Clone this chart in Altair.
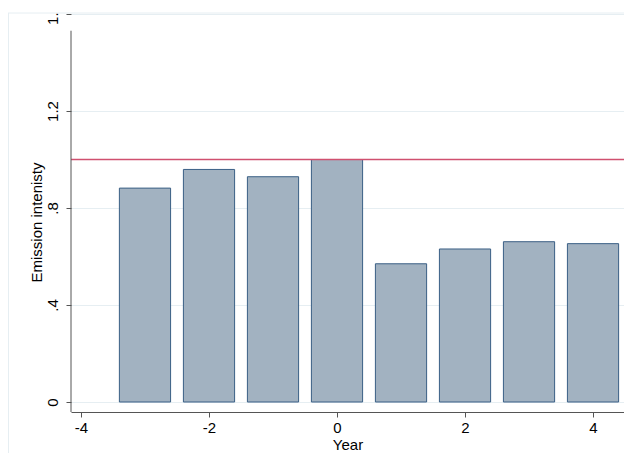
import altair as alt
import pandas as pd

years = [-3, -2, -1, 0, 1, 2, 3, 4]
values = [0.882, 0.959, 0.929, 1.0, 0.570, 0.631, 0.661, 0.653]
x_ticks = [-4, -2, 0, 2, 4]
y_ticks = [0, 0.4, 0.8, 1.2, 1.6]
ref_value = [1.0]

W, H = 553, 398
FONT = "Liberation Sans"

df = pd.DataFrame({"year": years, "value": values})
ref = pd.DataFrame({"ref": ref_value})

xscale = alt.Scale(domain=[-4.156, 4.484], nice=False, zero=False)
yscale = alt.Scale(domain=[-0.0412, 1.6], nice=False, zero=False)

bars = alt.Chart(df).transform_calculate(
    lo="datum.year - 0.4", hi="datum.year + 0.4"
).mark_bar(fill="#a2b2c1", stroke="#3a5f85", strokeWidth=1).encode(
    x=alt.X("lo:Q", scale=xscale,
            axis=alt.Axis(values=x_ticks, title="Year", grid=False,
                          domainColor="#555555", tickColor="#555555", tickSize=5,
                          labelExpr="'' + datum.value",
                          labelFont=FONT, labelFontSize=15, labelColor="#000000",
                          labelPadding=3, titleFont=FONT, titleFontSize=15,
                          titleFontWeight="normal", titleColor="#000000",
                          titlePadding=2, labelFlush=False)),
    x2="hi:Q",
    y=alt.Y("value:Q", scale=yscale,
            axis=alt.Axis(values=y_ticks, title="Emission intenisty", grid=True,
                          gridColor="#e6eef2", domain=False,
                          tickColor="#555555", tickSize=5,
                          labelExpr="datum.value == 0 ? '0' : (datum.value < 1 ? replace(format(datum.value, '.1f'), '0.', '.') : format(datum.value, '.1f'))",
                          labelFont=FONT, labelFontSize=15, labelColor="#000000",
                          labelAngle=270, labelAlign="center", labelBaseline="bottom",
                          labelPadding=6, labelFlush=False,
                          titleFont=FONT, titleFontSize=15, titleFontWeight="normal",
                          titleColor="#000000", titleAngle=270,
                          titleX=-35, titleY=208, titleBaseline="middle")),
    y2=alt.datum(0),
)

refline = alt.Chart(ref).mark_rule(color="#d0506f", strokeWidth=1.6).encode(
    y=alt.Y("ref:Q", scale=yscale)
)

yaxis_line = alt.Chart(ref).mark_rule(color="#555555", strokeWidth=1).encode(
    x=alt.value(0),
    y=alt.datum(-0.0412, scale=yscale),
    y2=alt.datum(1.531),
)

# graph-region edge: hides what lies above it, as in the original
top_mask = alt.Chart(ref).mark_rect(color="#ffffff").encode(
    x=alt.value(-63), x2=alt.value(0), y=alt.value(-7), y2=alt.value(-1)
)
frame_left = alt.Chart(ref).mark_rule(color="#e6eef2", strokeWidth=1).encode(
    x=alt.value(-62.5), y=alt.value(-1), y2=alt.value(460)
)
frame_top = alt.Chart(ref).mark_rule(color="#e6eef2", strokeWidth=1).encode(
    x=alt.value(-63), x2=alt.value(W), y=alt.value(-1)
)

chart = alt.layer(top_mask, frame_left, frame_top, bars, refline, yaxis_line).properties(
    width=W, height=H,
    autosize=alt.AutoSizeParams(type="none"),
    padding={"left": 63, "top": 6, "right": 0, "bottom": 41},
).configure_view(stroke=None)

chart.save("out.html", embed_options={"renderer": "svg", "actions": False})
